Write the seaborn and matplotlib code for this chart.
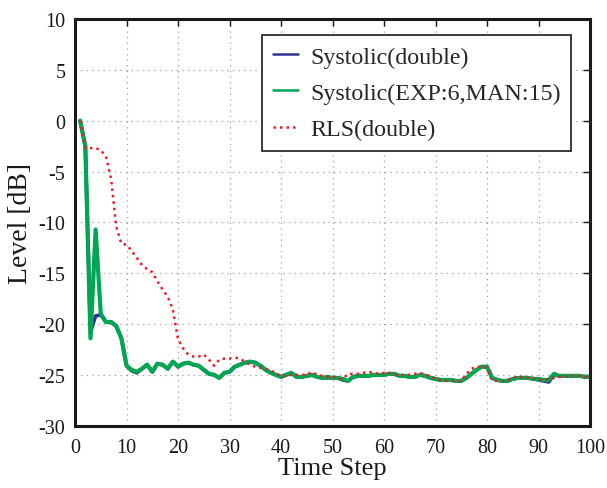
import numpy as np
import pandas as pd
import matplotlib
matplotlib.use("Agg")
import matplotlib.pyplot as plt
import seaborn as sns

# --- data ---
steps = list(range(1, 101))

systolic_fixed = [
    0.0, -2.5, -21.4, -10.7, -19.0, -19.8, -19.8, -20.2, -21.4, -24.1,
    -24.5, -24.7, -24.4, -24.0, -24.7, -23.9, -24.0, -24.4, -23.7, -24.2,
    -23.9, -23.8, -24.0, -24.1, -24.5, -24.9, -25.0, -25.3, -24.8, -24.7,
    -24.2, -24.0, -23.8, -23.7, -23.8, -24.1, -24.5, -24.8, -25.0, -25.2,
    -25.0, -24.8, -25.2, -25.2, -25.1, -25.0, -25.2, -25.3, -25.2, -25.3,
    -25.3, -25.4, -25.6, -25.2, -25.1, -25.1, -25.1, -25.0, -25.0, -25.0,
    -24.9, -24.9, -25.1, -25.1, -25.2, -25.2, -25.0, -25.1, -25.3, -25.4,
    -25.5, -25.5, -25.5, -25.6, -25.6, -25.3, -24.9, -24.5, -24.2, -24.2,
    -25.3, -25.5, -25.6, -25.6, -25.4, -25.3, -25.3, -25.3, -25.4, -25.4,
    -25.5, -25.5, -24.9, -25.1, -25.1, -25.1, -25.1, -25.1, -25.2, -25.2,
]

systolic_double = [
    0.0, -2.5, -20.8, -19.2, -19.1, -19.8, -19.8, -20.2, -21.4, -24.1,
    -24.6, -24.8, -24.4, -24.0, -24.7, -23.9, -24.0, -24.4, -23.7, -24.2,
    -23.9, -23.8, -24.0, -24.1, -24.5, -24.9, -25.0, -25.3, -24.8, -24.7,
    -24.2, -24.0, -23.8, -23.7, -23.8, -24.1, -24.5, -24.8, -25.0, -25.2,
    -25.0, -24.8, -25.2, -25.2, -25.1, -25.0, -25.2, -25.3, -25.3, -25.3,
    -25.3, -25.5, -25.6, -25.2, -25.1, -25.1, -25.1, -25.0, -25.0, -25.0,
    -24.9, -24.9, -25.1, -25.1, -25.2, -25.2, -25.0, -25.1, -25.3, -25.4,
    -25.5, -25.5, -25.5, -25.6, -25.6, -25.3, -24.9, -24.5, -24.2, -24.2,
    -25.3, -25.5, -25.6, -25.6, -25.4, -25.3, -25.3, -25.3, -25.4, -25.5,
    -25.6, -25.7, -25.0, -25.1, -25.1, -25.1, -25.1, -25.1, -25.2, -25.2,
]

rls_double = [
    0.0, -2.7, -2.7, -2.7, -2.9, -3.5, -5.7, -10.4, -12.1, -12.2,
    -12.8, -13.5, -14.2, -14.6, -14.9, -15.8, -16.6, -17.3, -18.6, -21.5,
    -22.4, -23.0, -23.2, -23.2, -23.0, -23.5, -24.1, -23.5, -23.4, -23.4,
    -23.3, -23.4, -23.7, -24.0, -24.2, -24.3, -24.4, -24.6, -24.8, -25.2,
    -25.1, -25.0, -25.0, -25.0, -25.0, -24.7, -25.0, -25.1, -25.2, -25.2,
    -25.3, -25.4, -24.9, -24.9, -24.9, -24.8, -24.7, -24.8, -24.9, -24.8,
    -24.8, -25.0, -25.0, -25.0, -25.0, -24.9, -24.8, -25.0, -25.1, -25.4,
    -25.5, -25.6, -25.6, -25.6, -25.6, -24.9, -24.4, -24.2, -24.2, -24.3,
    -25.6, -25.6, -25.6, -25.5, -25.3, -25.2, -25.2, -25.3, -25.3, -25.4,
    -25.5, -25.4, -25.3, -25.2, -25.2, -25.1, -25.1, -25.1, -25.2, -25.2,
]

x_ticks = [0, 10, 20, 30, 40, 50, 60, 70, 80, 90, 100]
y_ticks = [10, 5, 0, -5, -10, -15, -20, -25, -30]

# --- style ---
sns.set_style("white")
plt.rcParams['font.family'] = ['Liberation Serif', 'DejaVu Serif']

fig = plt.figure(figsize=(6.07, 4.89), dpi=100)
ax = fig.add_axes([0.1236, 0.1274, 0.8484, 0.8316])

sns.lineplot(x=steps, y=systolic_double, ax=ax, color='#2e3192', lw=2.6,
             label='Systolic(double)')
sns.lineplot(x=steps, y=systolic_fixed, ax=ax, color='#00a651', lw=3.0,
             label='Systolic(EXP:6,MAN:15)')
sns.lineplot(x=steps, y=rls_double, ax=ax, color='#ed1c24', lw=1.8,
             linestyle=(0, (1, 1.6)), label='RLS(double)')

ax.set_xlim(0, 100)
ax.set_ylim(-30, 10)
ax.set_xticks(x_ticks)
ax.set_yticks(y_ticks)
ax.set_yticklabels([str(v) for v in y_ticks])

ax.grid(True, color='#a0a0a0', linestyle=(0, (1, 3.5)), linewidth=0.9)
for s in ax.spines.values():
    s.set_visible(True)
    s.set_color('#1a1a1a')
    s.set_linewidth(2.2)
ax.tick_params(direction='in', length=5, width=1, top=True, right=True,
               labelsize=14.5, pad=7, colors='#1a1a1a')
ax.tick_params(axis='x', pad=9)

ax.set_xlabel('Time Step', fontsize=19, labelpad=0, color='#1a1a1a')
ax.set_ylabel('Level [dB]', fontsize=20, labelpad=4, color='#1a1a1a')

leg = ax.legend(loc='upper right', bbox_to_anchor=(0.964, 0.961),
                borderaxespad=0, fontsize=17.3, handlelength=1.05,
                handletextpad=0.5, labelspacing=0.6, borderpad=0.45,
                fancybox=False, framealpha=1, edgecolor='#1a1a1a')
leg.get_frame().set_linewidth(1.2)
for h in leg.get_lines():
    h.set_linewidth(1.8)

fig.savefig('out.png', dpi=100)
